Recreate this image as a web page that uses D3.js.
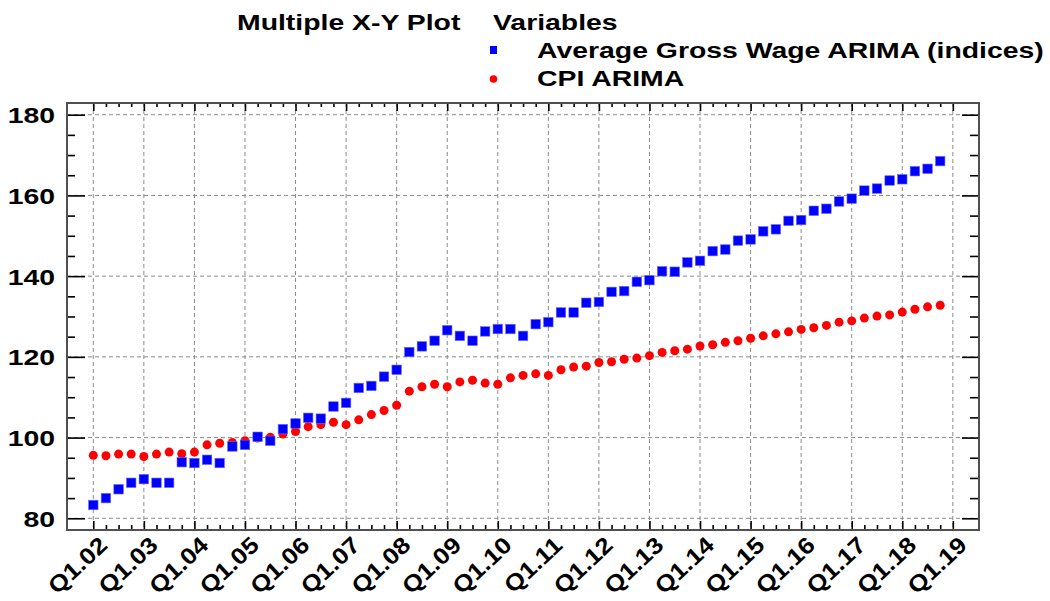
<!DOCTYPE html>
<html>
<head>
<meta charset="utf-8">
<script src="https://cdn.jsdelivr.net/npm/d3@7"></script>
<style>
  body { margin: 0; background: #fff; }
  svg text { font-family: "Liberation Sans", Arial, sans-serif; font-weight: bold; fill: #000; }
</style>
</head>
<body>
<svg id="chart" width="1050" height="601"></svg>
<script>
// Quarter index 0 = Q1.02 ... 67 = Q4.18
var yearLabels = ["Q1.02", "Q1.03", "Q1.04", "Q1.05", "Q1.06", "Q1.07", "Q1.08", "Q1.09", "Q1.10",
    "Q1.11", "Q1.12", "Q1.13", "Q1.14", "Q1.15", "Q1.16", "Q1.17", "Q1.18", "Q1.19"];
var yTicks = [80, 100, 120, 140, 160, 180];

var wage = [83.3, 85.0, 87.2, 88.8, 89.7, 88.8, 88.8, 93.9, 93.7, 94.5, 93.7, 97.8, 98.2, 100.2, 99.2, 102.1,
    103.5, 104.9, 104.7, 107.7, 108.6, 112.3, 112.8, 115.1, 116.8, 121.2, 122.6, 124.0, 126.6, 125.2, 124.0, 126.3,
    126.9, 126.9, 125.2, 128.1, 128.6, 131.0, 131.0, 133.4, 133.6, 136.1, 136.3, 138.6, 139.0, 141.2, 141.1, 143.4,
    143.8, 146.2, 146.6, 148.8, 149.1, 151.1, 151.6, 153.7, 153.9, 156.2, 156.7, 158.5, 159.2, 161.2, 161.7, 163.7,
    164.0, 166.0, 166.6, 168.5];
var cpi = [95.6, 95.5, 95.9, 95.9, 95.3, 95.9, 96.4, 96.0, 96.4, 98.2, 98.6, 98.8, 99.2, 99.9, 100.1, 100.9,
    101.5, 102.7, 103.2, 103.8, 103.2, 104.4, 105.7, 106.7, 108.0, 111.5, 112.6, 113.2, 112.6, 113.8, 114.2, 113.5,
    113.2, 114.8, 115.4, 115.8, 115.4, 116.8, 117.5, 117.7, 118.6, 118.8, 119.4, 119.7, 120.3, 121.1, 121.5, 121.9,
    122.7, 123.0, 123.6, 124.0, 124.6, 125.2, 125.7, 126.2, 126.8, 127.2, 127.8, 128.6, 128.9, 129.6, 130.1, 130.4,
    131.1, 131.8, 132.4, 132.8];

var svg = d3.select("#chart");
var pLeft = 67, pRight = 979, pTop = 103, pBottom = 530;
var stretch = 1.29;
var fontSize = "22px";

var x = d3.scaleLinear().domain([-2.08, 70.07]).range([pLeft, pRight]);
var y = d3.scaleLinear().domain([77.1, 182.9]).range([pBottom, pTop]);

var majorX = d3.range(0, 69, 4);
var minorX = d3.range(0, 69).filter(function (d) { return d % 4 !== 0; });
var minorY = d3.range(80, 181, 5).filter(function (d) { return d % 20 !== 0; });

// widen text like the original output
function widen(sel, k) {
    sel.each(function () {
        var len = this.getComputedTextLength();
        d3.select(this).attr("textLength", len * k).attr("lengthAdjust", "spacingAndGlyphs");
    });
}
function labelFont(sel) {
    sel.attr("font-size", fontSize)
        .style("font-family", "Liberation Sans, Arial, sans-serif")
        .style("font-weight", "bold")
        .attr("fill", "#000");
}

// grid
var grid = svg.append("g").attr("stroke", "#8a8a8a").attr("stroke-width", 1).attr("stroke-dasharray", "4,3");
grid.selectAll(".gx").data(majorX).enter().append("line")
    .attr("x1", function (d) { return x(d); }).attr("x2", function (d) { return x(d); })
    .attr("y1", pTop).attr("y2", pBottom);
grid.selectAll(".gy").data(yTicks).enter().append("line")
    .attr("x1", pLeft).attr("x2", pRight)
    .attr("y1", function (d) { return y(d); }).attr("y2", function (d) { return y(d); });

// axes (ticks inside)
function styleAxis(g) {
    g.select(".domain").remove();
    g.selectAll(".tick line").attr("stroke", "#000").attr("stroke-width", 1.6);
}
var yAxisG = svg.append("g").attr("transform", "translate(" + pLeft + ",0)")
    .call(d3.axisLeft(y).tickValues(yTicks).tickSize(-18).tickPadding(12).tickFormat(d3.format("d")))
    .call(styleAxis)
    .call(function (g) { g.selectAll("text").call(labelFont).attr("dy", "0.36em"); });
widen(yAxisG.selectAll("text"), stretch);
svg.append("g").attr("transform", "translate(" + pLeft + ",0)")
    .call(d3.axisLeft(y).tickValues(minorY).tickSize(-8).tickFormat(""))
    .call(styleAxis);
svg.append("g").attr("transform", "translate(" + pRight + ",0)")
    .call(d3.axisRight(y).tickValues(yTicks).tickSize(-17).tickFormat(""))
    .call(styleAxis);
svg.append("g").attr("transform", "translate(" + pRight + ",0)")
    .call(d3.axisRight(y).tickValues(minorY).tickSize(-9).tickFormat(""))
    .call(styleAxis);

var xAxisG = svg.append("g").attr("transform", "translate(0," + pBottom + ")")
    .call(d3.axisBottom(x).tickValues(majorX).tickSize(-9).tickFormat(function (d, i) { return yearLabels[i]; }))
    .call(styleAxis)
    .call(function (g) {
        g.selectAll("text").call(labelFont)
            .attr("font-size", "23px")
            .attr("x", 0).attr("y", 0).attr("dy", 0)
            .attr("text-anchor", "end")
            .attr("transform", "translate(15,17) rotate(-43)");
    });
widen(xAxisG.selectAll("text"), 1.13);
svg.append("g").attr("transform", "translate(0," + pBottom + ")")
    .call(d3.axisBottom(x).tickValues(minorX).tickSize(-5).tickFormat(""))
    .call(styleAxis);
svg.append("g").attr("transform", "translate(0," + pTop + ")")
    .call(d3.axisTop(x).tickValues(majorX).tickSize(-8).tickFormat(""))
    .call(styleAxis);
svg.append("g").attr("transform", "translate(0," + pTop + ")")
    .call(d3.axisTop(x).tickValues(minorX).tickSize(-4).tickFormat(""))
    .call(styleAxis);

// frame
svg.append("rect")
    .attr("x", pLeft).attr("y", pTop).attr("width", pRight - pLeft).attr("height", pBottom - pTop)
    .attr("fill", "none").attr("stroke", "#505050").attr("stroke-width", 2);

// CPI series (circles)
svg.append("g").selectAll("circle").data(cpi).enter().append("circle")
    .attr("cx", function (d, i) { return x(i); })
    .attr("cy", function (d) { return y(d); })
    .attr("r", 4.5)
    .attr("fill", "#ff0000");

// Wage series (squares)
var sq = 9.5;
svg.append("g").selectAll("rect").data(wage).enter().append("rect")
    .attr("x", function (d, i) { return x(i) - sq / 2; })
    .attr("y", function (d) { return y(d) - sq / 2; })
    .attr("width", sq).attr("height", sq)
    .attr("fill", "#0000ff")
    .attr("stroke", "#6a6aff").attr("stroke-width", 0.6);

// title and legend
var lg = svg.append("g");
lg.append("text").attr("x", 237).attr("y", 30).text("Multiple X-Y Plot");
lg.append("text").attr("x", 493).attr("y", 30).text("Variables");
lg.append("rect").attr("x", 490).attr("y", 46).attr("width", 7).attr("height", 8).attr("fill", "#0000ff");
lg.append("text").attr("x", 537).attr("y", 58).text("Average Gross Wage ARIMA (indices)");
lg.append("circle").attr("cx", 493.5).attr("cy", 79).attr("r", 3.8).attr("fill", "#ff0000");
lg.append("text").attr("x", 537).attr("y", 86).text("CPI ARIMA");
lg.selectAll("text").call(labelFont);
widen(lg.selectAll("text"), stretch);
</script>
</body>
</html>
